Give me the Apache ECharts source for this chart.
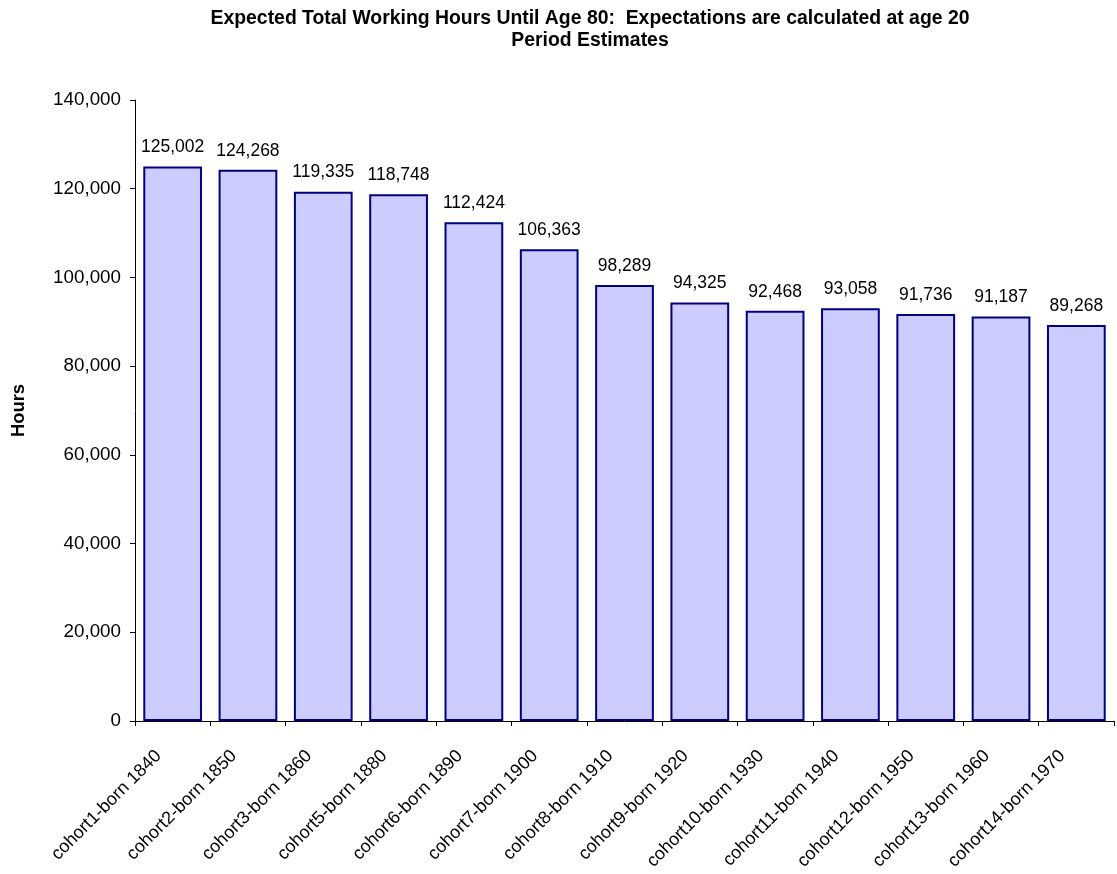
<!DOCTYPE html>
<html><head><meta charset="utf-8">
<script src="https://cdn.jsdelivr.net/npm/echarts@6/dist/echarts.min.js"></script>
<style>html,body{margin:0;padding:0;background:#fff}#c{width:1117px;height:874px}</style>
</head><body><div id="c"></div>
<script>
const categories = ["cohort1-born 1840","cohort2-born 1850","cohort3-born 1860","cohort5-born 1880","cohort6-born 1890","cohort7-born 1900","cohort8-born 1910","cohort9-born 1920","cohort10-born 1930","cohort11-born 1940","cohort12-born 1950","cohort13-born 1960","cohort14-born 1970"];
const hours = [125002,124268,119335,118748,112424,106363,98289,94325,92468,93058,91736,91187,89268];
const titleLines = ["Expected Total Working Hours Until Age 80:  Expectations are calculated at age 20","Period Estimates"];
const yAxisName = "Hours";

const fmt = v => Number(v).toLocaleString('en-US');
const FF = 'Liberation Sans, Arial, sans-serif';
const chart = echarts.init(document.getElementById('c'));
chart.setOption({
  animation:false,
  textStyle:{fontFamily:FF},
  title:{text:titleLines.join('\n'), left:585, textAlign:'center', top:3,
    textStyle:{fontSize:19.4,fontWeight:'bold',color:'#000',lineHeight:22,fontFamily:FF}},
  grid:{left:135,right:3,top:100,bottom:153,containLabel:false},
  xAxis:{type:'category',data:categories,
    axisLine:{lineStyle:{color:'#000',width:1}},
    axisTick:{show:true,length:5,lineStyle:{color:'#000'}},
    axisLabel:{rotate:45,fontSize:18,color:'#000',margin:18,interval:0,padding:[0,20,0,0]}},
  yAxis:{type:'value',min:0,max:140000,interval:20000,
    name:yAxisName,nameLocation:'middle',nameGap:107,nameRotate:90,
    nameTextStyle:{fontSize:18.4,fontWeight:'bold',color:'#000'},
    axisLine:{show:true,lineStyle:{color:'#000'}},
    axisTick:{show:true,length:5,lineStyle:{color:'#000'}},
    splitLine:{show:false},
    axisLabel:{fontSize:18.8,color:'#000',margin:14,formatter:fmt}},
  series:[{type:'bar',data:hours,barCategoryGap:'22%',
    itemStyle:{color:'#CCCCFF',borderColor:'#000080',borderWidth:2},
    label:{show:true,position:'top',distance:10,fontSize:17.5,color:'#000',formatter:p=>fmt(p.value)}}]
});
</script></body></html>
